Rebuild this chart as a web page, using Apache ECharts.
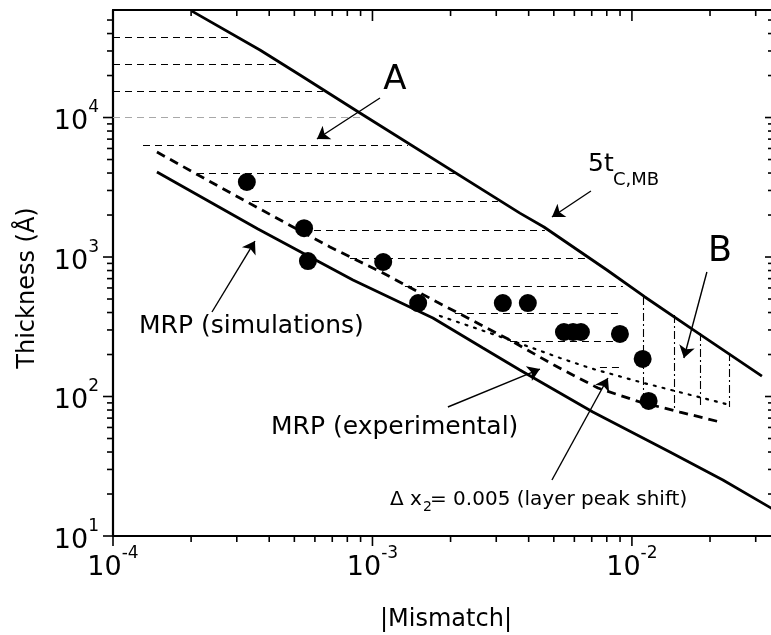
<!DOCTYPE html>
<html><head><meta charset="utf-8">
<script src="https://cdn.jsdelivr.net/npm/echarts@6/dist/echarts.min.js"></script>
<style>html,body{margin:0;padding:0;background:#fff}#c{width:771px;height:635px}</style>
</head><body><div id="c"></div>
<script>
// ---- axis ranges & ticks ----
const X_MIN = 1e-4, X_MAX = 0.0356;
const Y_MIN = 10, Y_MAX = 59000;
const xMajorTicks = [1e-4, 1e-3, 1e-2];
const xMinorTicks = [2e-4,3e-4,4e-4,5e-4,6e-4,7e-4,8e-4,9e-4,2e-3,3e-3,4e-3,5e-3,6e-3,7e-3,8e-3,9e-3,2e-2,3e-2];
const yMajorTicks = [10, 100, 1000, 10000];
const yMinorTicks = [20,30,40,50,60,70,80,90,200,300,400,500,600,700,800,900,2000,3000,4000,5000,6000,7000,8000,9000,20000,30000,40000,50000];
const xTickExponents = [-4, -3, -2];
const yTickExponents = [1, 2, 3, 4];

// ---- measured points (filled circles) ----
const pointMismatch  = [3.28e-4, 5.45e-4, 5.64e-4, 1.10e-3, 1.50e-3, 3.18e-3, 3.97e-3, 5.47e-3, 5.93e-3, 6.36e-3, 8.99e-3, 1.10e-2, 1.16e-2];
const pointThickness = [3450, 1610, 936, 921, 468, 468, 468, 290, 290, 290, 281, 186, 93];

// ---- 5 t_C,MB curve ----
const tcmbMismatch  = [2.015e-4, 3.685e-4, 5.255e-4, 8.95e-4, 3.70e-3, 4.58e-3, 8.01e-3, 1.122e-2, 1.702e-2, 3.17e-2];
const tcmbThickness = [57900, 30480, 20170, 10770, 2065, 1641, 807, 517, 305, 140];

// ---- MRP (simulations) ----
const simMismatch  = [1.477e-4, 3.62e-4, 8.41e-4, 1.71e-3, 2.666e-3, 3.70e-3, 7.07e-3, 1.401e-2, 2.242e-2, 3.43e-2, 3.56e-2];
const simThickness = [4066, 1588, 684, 365, 222.7, 154.9, 77.4, 40.0, 25.2, 15.9, 15.3];

// ---- MRP (experimental) ----
const expMismatch  = [1.477e-4, 2.164e-4, 3.685e-4, 6.86e-4, 1.098e-3, 1.773e-3, 3.388e-3, 5.006e-3, 7.396e-3, 1.074e-2, 1.531e-2, 2.183e-2];
const expThickness = [5657, 3807, 2209, 1180, 768, 476, 254, 168, 115, 91.3, 77.4, 65.7];

// ---- Delta x2 = 0.005 (layer peak shift) ----
const shiftMismatch  = [1.82e-3, 2.836e-3, 4.045e-3, 5.28e-3, 6.89e-3, 1.074e-2, 1.572e-2, 2.385e-2];
const shiftThickness = [378, 285, 226, 189, 160, 127, 106, 87];

// ---- hatching of region A (horizontal) ----
const hatchLevel = [37760, 24180, 15490, 10000, 6300, 3968, 2499, 1562, 984, 620, 397, 250, 163];
const hatchFrom  = [1e-4, 1e-4, 1e-4, 1e-4, 1.305e-4, 2.107e-4, 3.433e-4, 5.35e-4, 8.19e-4, 1.334e-3, 2.079e-3, 3.388e-3, 7.53e-3];
const hatchTo    = [2.80e-4, 4.40e-4, 6.45e-4, 9.61e-4, 1.37e-3, 2.08e-3, 3.045e-3, 4.62e-3, 6.59e-3, 9.23e-3, 9.15e-3, 8.60e-3, 9.15e-3];

// ---- hatching of region B (vertical) ----
const bMismatch = [0.0111, 0.0145, 0.0183, 0.0238];
const bTop      = [516, 384, 285, 205];
const bBottom   = [90, 80, 84, 84];

// ---- annotation arrows (tail -> head) ----
const arrowFromX = [1.069e-3, 6.95e-3, 0.01945, 2.407e-4, 1.953e-3, 4.918e-3];
const arrowFromY = [13800, 2972, 781, 403.5, 84.1, 25.2];
const arrowToX   = [6.11e-4, 4.918e-3, 0.01586, 3.525e-4, 4.42e-3, 8.08e-3];
const arrowToY   = [7013, 1935, 189, 1302, 157.4, 135.7];

const FONT = 'DejaVu Sans';
const zip = (a, b) => a.map((v, i) => [v, b[i]]);
const labelRich = {
  b: {fontFamily: FONT, fontSize: 27, lineHeight: 36, verticalAlign: 'bottom', color: '#000'},
  s: {fontFamily: FONT, fontSize: 17, lineHeight: 18, verticalAlign: 'top', color: '#000'}
};
function fmt(list, exps) {
  return function (v) {
    for (let i = 0; i < list.length; i++) {
      if (Math.abs(Math.log10(v) - Math.log10(list[i])) < 1e-6) return '{b|10}{s|' + exps[i] + '}';
    }
    return '';
  };
}

const tickData = [];
xMajorTicks.forEach(v => tickData.push([v, Y_MIN, 1, 0]));
xMinorTicks.forEach(v => tickData.push([v, Y_MIN, 0, 0]));
yMajorTicks.forEach(v => tickData.push([X_MIN, v, 1, 1]));
yMinorTicks.forEach(v => tickData.push([X_MIN, v, 0, 1]));

const chart = echarts.init(document.getElementById('c'), null, {renderer: 'canvas'});
const black = '#000';
const axisLine = {show: true, lineStyle: {color: black, width: 2.2}};

chart.setOption({
  animation: false,
  backgroundColor: '#fff',
  grid: {left: 113, top: 10, width: 662, height: 526, containLabel: false, outerBoundsMode: 'none'},
  xAxis: [
    {type: 'log', min: X_MIN, max: X_MAX, position: 'bottom', axisLine, axisTick: {show: false}, splitLine: {show: false},
     axisLabel: {formatter: fmt(xMajorTicks, xTickExponents), rich: labelRich, margin: 9, showMinLabel: true, showMaxLabel: true}},
    {type: 'log', min: X_MIN, max: X_MAX, position: 'top', axisLine, axisTick: {show: false}, splitLine: {show: false}, axisLabel: {show: false}}
  ],
  yAxis: [
    {type: 'log', min: Y_MIN, max: Y_MAX, position: 'left', axisLine, axisTick: {show: false}, splitLine: {show: false},
     axisLabel: {formatter: fmt(yMajorTicks, yTickExponents), rich: labelRich, margin: 14, showMinLabel: true, showMaxLabel: true}},
    {type: 'log', min: Y_MIN, max: Y_MAX, position: 'right', axisLine, axisTick: {show: false}, splitLine: {show: false}, axisLabel: {show: false}}
  ],
  series: [
    {type: 'custom', coordinateSystem: 'cartesian2d', clip: false, silent: true, z: 5,
     encode: {x: 0, y: 1}, data: tickData,
     renderItem: function (params, api) {
       const x = api.value(0), y = api.value(1), major = api.value(2) === 1, isY = api.value(3) === 1;
       const st = {stroke: black, lineWidth: 1.6};
       if (!isY) {
         const b = api.coord([x, Y_MIN]), t = api.coord([x, Y_MAX]);
         const lo = major ? 10 : 6, li = major ? 11 : 6;
         return {type: 'group', children: [
           {type: 'line', shape: {x1: b[0], y1: b[1], x2: b[0], y2: b[1] + lo}, style: st},
           {type: 'line', shape: {x1: t[0], y1: t[1], x2: t[0], y2: t[1] + li}, style: st}]};
       }
       const l = api.coord([X_MIN, y]), r = api.coord([X_MAX, y]);
       const lo = major ? 10 : 6, li = major ? 10 : 7;
       return {type: 'group', children: [
         {type: 'line', shape: {x1: l[0] - lo, y1: l[1], x2: l[0], y2: l[1]}, style: st},
         {type: 'line', shape: {x1: r[0] - li, y1: r[1], x2: r[0], y2: r[1]}, style: st}]};
     }},
    {type: 'lines', coordinateSystem: 'cartesian2d', silent: true, z: 2,
     lineStyle: {color: black, width: 1.2, type: [7, 5], opacity: 1},
     data: hatchLevel.map((y, i) => ({coords: [[hatchFrom[i], y], [hatchTo[i], y]],
       lineStyle: y === 10000 ? {color: '#a8a8a8'} : undefined}))},
    {type: 'lines', coordinateSystem: 'cartesian2d', silent: true, z: 2,
     lineStyle: {color: black, width: 1.1, type: [8, 3, 2, 3], opacity: 1},
     data: bMismatch.map((x, i) => ({coords: [[x, bTop[i]], [x, bBottom[i]]]}))},
    {type: 'line', name: '5tC,MB', data: zip(tcmbMismatch, tcmbThickness), showSymbol: false, symbol: 'none', z: 3,
     lineStyle: {color: black, width: 2.8}},
    {type: 'line', name: 'MRP (simulations)', data: zip(simMismatch, simThickness), showSymbol: false, symbol: 'none', z: 3,
     lineStyle: {color: black, width: 2.8}},
    {type: 'line', name: 'MRP (experimental)', data: zip(expMismatch, expThickness), showSymbol: false, symbol: 'none', z: 3,
     lineStyle: {color: black, width: 2.8, type: [9, 6]}},
    {type: 'line', name: 'layer peak shift', data: zip(shiftMismatch, shiftThickness), showSymbol: false, symbol: 'none', z: 3,
     lineStyle: {color: black, width: 2.2, type: [2, 7], cap: 'round'}},
    {type: 'scatter', name: 'data', data: zip(pointMismatch, pointThickness), symbol: 'circle', symbolSize: 18, z: 4,
     itemStyle: {color: black, opacity: 1}},
    {type: 'lines', coordinateSystem: 'cartesian2d', silent: true, z: 4,
     symbol: ['none', 'arrow'], symbolSize: 12,
     lineStyle: {color: black, width: 1.4, opacity: 1},
     data: arrowFromX.map((x, i) => ({coords: [[x, arrowFromY[i]], [arrowToX[i], arrowToY[i]]]}))}
  ],
  graphic: [
    {type: 'text', x: 28, y: 288, rotation: Math.PI / 2, style: {text: 'Thickness (Å)', font: '24px "DejaVu Sans"', fill: black, align: 'center', verticalAlign: 'middle'}},
    {type: 'text', x: 446, y: 620, style: {text: '|Mismatch|', font: '24px "DejaVu Sans"', fill: black, align: 'center', verticalAlign: 'middle'}},
    {type: 'text', x: 395, y: 80, style: {text: 'A', font: '34px "DejaVu Sans"', fill: black, align: 'center', verticalAlign: 'middle'}},
    {type: 'text', x: 720, y: 252, style: {text: 'B', font: '35px "DejaVu Sans"', fill: black, align: 'center', verticalAlign: 'middle'}},
    {type: 'text', x: 588, y: 164, style: {text: '5t', font: '25px "DejaVu Sans"', fill: black, align: 'left', verticalAlign: 'middle'}},
    {type: 'text', x: 613, y: 180, style: {text: 'C,MB', font: '18px "DejaVu Sans"', fill: black, align: 'left', verticalAlign: 'middle'}},
    {type: 'text', x: 139, y: 326, style: {text: 'MRP (simulations)', font: '25px "DejaVu Sans"', fill: black, align: 'left', verticalAlign: 'middle'}},
    {type: 'text', x: 271, y: 427, style: {text: 'MRP (experimental)', font: '25px "DejaVu Sans"', fill: black, align: 'left', verticalAlign: 'middle'}},
    {type: 'text', x: 390, y: 500, style: {text: 'Δ x', font: '20px "DejaVu Sans"', fill: black, align: 'left', verticalAlign: 'middle'}},
    {type: 'text', x: 423, y: 507, style: {text: '2', font: '14px "DejaVu Sans"', fill: black, align: 'left', verticalAlign: 'middle'}},
    {type: 'text', x: 430, y: 500, style: {text: '= 0.005 (layer peak shift)', font: '20px "DejaVu Sans"', fill: black, align: 'left', verticalAlign: 'middle'}}
  ]
});
</script></body></html>
